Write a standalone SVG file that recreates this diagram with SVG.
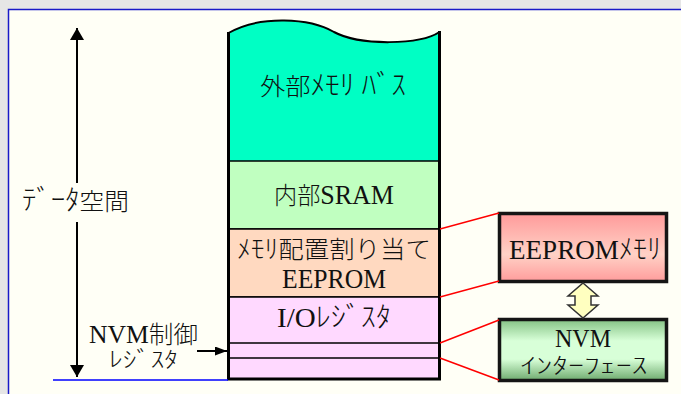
<svg xmlns="http://www.w3.org/2000/svg" width="681" height="394" viewBox="0 0 681 394">
<style>
.t{font-family:"Liberation Serif","Noto Sans CJK JP",serif;font-size:24px;fill:#111;font-weight:300}
.m{text-anchor:middle}
.L{font-size:27px;font-weight:400}
.k{font-size:28px}
.sec{stroke:#000;stroke-width:1.5}
.red{stroke:#ff0000;stroke-width:1.5;fill:none}
.ar{stroke:#000;stroke-width:2;fill:none}
</style>
<defs>
<linearGradient id="gRed" x1="0" y1="0" x2="0" y2="1">
<stop offset="0" stop-color="#ff9a9a"/>
<stop offset="0.6" stop-color="#ffd2c6"/>
<stop offset="1" stop-color="#ff9c9c"/>
</linearGradient>
<linearGradient id="gGreen" x1="0" y1="0" x2="0" y2="1">
<stop offset="0" stop-color="#84c284"/>
<stop offset="0.35" stop-color="#d8ffd8"/>
<stop offset="0.65" stop-color="#d8ffd8"/>
<stop offset="1" stop-color="#6eaa6e"/>
</linearGradient>
<marker id="ah" markerWidth="12" markerHeight="14" refX="12" refY="7" orient="auto" markerUnits="userSpaceOnUse">
<path d="M0,0 L12,7 L0,14 Z" fill="#000"/>
</marker>
<marker id="ahs" markerWidth="12" markerHeight="9" refX="12" refY="4.5" orient="auto" markerUnits="userSpaceOnUse">
<path d="M0,0 L12,4.5 L0,9 Z" fill="#000"/>
</marker>
</defs>
<rect x="0" y="0" width="681" height="394" fill="#e6e6e6"/>
<rect x="8.5" y="9.5" width="680" height="400" fill="#fffff6" stroke="#1a1ac8" stroke-width="1.5"/>

<g id="ext-bus">
<path d="M228.5,33 C260,15 310,18 334,32 C360,46 420,45 439.5,32 L439.5,161 L228.5,161 Z" fill="#00ffc4"/>
<text class="t m" x="333" y="95" textLength="146" lengthAdjust="spacingAndGlyphs">外部<tspan class="k">ﾒﾓﾘ ﾊﾞｽ</tspan></text>
</g>
<g id="sram">
<rect class="sec" x="228.5" y="161" width="211" height="68" fill="#c0ffc0"/>
<text class="t m" x="334" y="204" textLength="120" lengthAdjust="spacingAndGlyphs">内部<tspan class="L">SRAM</tspan></text>
</g>
<g id="eeprom-mapped">
<rect class="sec" x="228.5" y="229" width="211" height="68" fill="#ffd9c0"/>
<text class="t m" x="334" y="258" textLength="194" lengthAdjust="spacingAndGlyphs"><tspan style="font-size:26px">ﾒﾓﾘ</tspan>配置割り当て</text>
<text class="t m L" x="334" y="288" font-size="26" textLength="104" lengthAdjust="spacingAndGlyphs">EEPROM</text>
</g>
<g id="io-reg">
<rect class="sec" x="228.5" y="297" width="211" height="82" fill="#ffd9ff"/>
<line class="sec" x1="228.5" y1="343" x2="439.5" y2="343"/>
<line class="sec" x1="228.5" y1="358" x2="439.5" y2="358"/>
<text class="t m" x="334" y="327" textLength="114" lengthAdjust="spacingAndGlyphs"><tspan class="L">I/O</tspan><tspan class="k">ﾚｼﾞｽﾀ</tspan></text>
</g>
<g id="column-outline">
<path d="M228.5,33 C260,15 310,18 334,32 C360,46 420,45 439.5,32" fill="none" stroke="#000" stroke-width="2"/>
<path d="M228.5,32 L228.5,379 L439.5,379 L439.5,31" fill="none" stroke="#000" stroke-width="3"/>
</g>

<g id="data-space-label">
<text class="t" x="22" y="210" textLength="107" lengthAdjust="spacingAndGlyphs"><tspan class="k">ﾃﾞｰﾀ</tspan>空間</text>
</g>
<g id="nvm-ctrl-label">
<text class="t" x="89" y="343" font-size="22" textLength="109" lengthAdjust="spacingAndGlyphs"><tspan style="font-size:25px;font-weight:400">NVM</tspan>制御</text>
<text class="t" x="109" y="367" style="font-size:22px" textLength="69" lengthAdjust="spacingAndGlyphs">ﾚｼﾞｽﾀ</text>
</g>

<g id="eeprom-memory">
<rect x="499.5" y="213.5" width="167" height="68" fill="url(#gRed)" stroke="#151515" stroke-width="3.5"/>
<text class="t m" x="585" y="259" textLength="152" lengthAdjust="spacingAndGlyphs"><tspan class="L">EEPROM</tspan><tspan class="k">ﾒﾓﾘ</tspan></text>
</g>
<g id="nvm-interface">
<rect x="499.5" y="319.5" width="167" height="61" fill="url(#gGreen)" stroke="#151515" stroke-width="3.5"/>
<text class="t m" x="583" y="347" style="font-size:26px;font-weight:400" textLength="56" lengthAdjust="spacingAndGlyphs">NVM</text>
<text class="t m" x="584" y="373" style="font-size:22px" textLength="127" lengthAdjust="spacingAndGlyphs">ｲﾝﾀｰﾌｪｰｽ</text>
</g>

<g id="connectors">
<line class="ar" x1="77" y1="183" x2="77" y2="28" marker-end="url(#ah)"/>
<line class="ar" x1="77" y1="222" x2="77" y2="377" marker-end="url(#ah)"/>
<line class="ar" x1="197" y1="351" x2="227" y2="351" marker-end="url(#ahs)"/>
<line x1="53" y1="380" x2="228" y2="380" stroke="#0000ff" stroke-width="1.5"/>
<line class="red" x1="440" y1="229" x2="499" y2="213"/>
<line class="red" x1="440" y1="297" x2="499" y2="281"/>
<line class="red" x1="440" y1="343" x2="499" y2="320"/>
<line class="red" x1="440" y1="358" x2="499" y2="380"/>
<path d="M583,283 L598,296 L591,296 L591,305 L598,305 L583,318 L568,305 L575,305 L575,296 L568,296 Z" fill="#ffffc0" stroke="#333" stroke-width="1.5" stroke-linejoin="miter"/>
</g>
</svg>
